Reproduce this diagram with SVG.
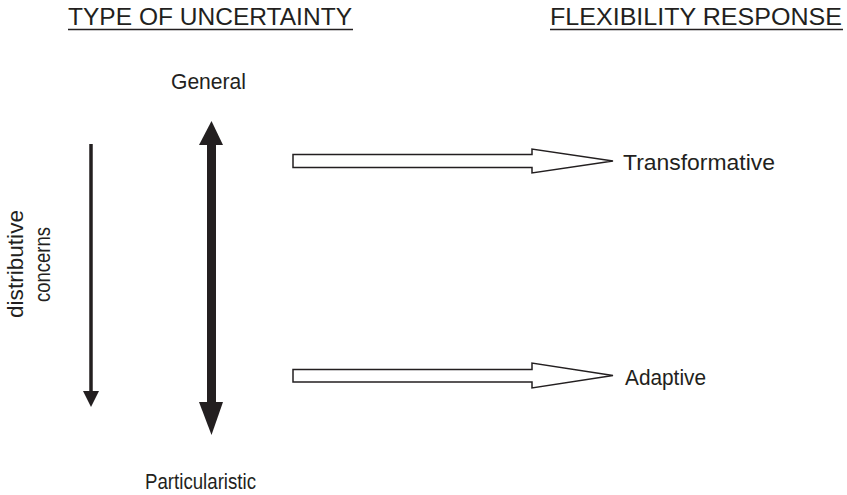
<svg xmlns="http://www.w3.org/2000/svg" width="847" height="495" viewBox="0 0 847 495">
<style>
text{font-family:"Liberation Sans",Arial,sans-serif;fill:#231f20;}
.title{font-size:24.5px;}
.lbl{font-size:22px;}
.ul{stroke:#231f20;stroke-width:1.5;}
.hollow{fill:#fff;stroke:#231f20;stroke-width:1.5;stroke-linejoin:miter;}
.solid{fill:#231f20;}
</style>
<rect width="847" height="495" fill="#fff"/>
<g id="title-uncertainty">
<text class="title" x="68" y="25" textLength="284" lengthAdjust="spacingAndGlyphs">TYPE OF UNCERTAINTY</text>
<line class="ul" x1="68" y1="29.5" x2="353" y2="29.5"/>
</g>
<g id="title-flexibility">
<text class="title" x="550" y="25" textLength="292" lengthAdjust="spacingAndGlyphs">FLEXIBILITY RESPONSE</text>
<line class="ul" x1="550" y1="29.5" x2="843" y2="29.5"/>
</g>
<g id="general"><text class="lbl" x="171" y="89" textLength="75" lengthAdjust="spacingAndGlyphs">General</text></g>
<g id="particularistic"><text class="lbl" x="145" y="489" textLength="111" lengthAdjust="spacingAndGlyphs">Particularistic</text></g>
<g id="transformative"><text class="lbl" x="623" y="170" textLength="152" lengthAdjust="spacingAndGlyphs">Transformative</text></g>
<g id="adaptive"><text class="lbl" x="625" y="385" textLength="81" lengthAdjust="spacingAndGlyphs">Adaptive</text></g>
<g id="distributive-concerns">
<text class="lbl" transform="translate(23,318) rotate(-90)" x="0" y="0" textLength="108" lengthAdjust="spacingAndGlyphs">distributive</text>
<text class="lbl" transform="translate(50,302) rotate(-90)" x="0" y="0" textLength="75" lengthAdjust="spacingAndGlyphs">concerns</text>
</g>
<g id="connectors">
<g id="distributive-arrow">
<line x1="91" y1="144" x2="91" y2="392" stroke="#231f20" stroke-width="3.5"/>
<polygon class="solid" points="83,391 99,391 91,407"/>
</g>
<g id="uncertainty-axis">
<rect class="solid" x="207" y="144" width="9" height="259"/>
<polygon class="solid" points="199,145 223,145 211.5,121"/>
<polygon class="solid" points="199,402 223,402 211.5,435"/>
</g>
<path id="arrow-transformative" class="hollow" d="M293,154.5 H532 V149 L613,161 L532,173 V167.5 H293 Z"/>
<path id="arrow-adaptive" class="hollow" d="M293,369.5 H532 V363 L613,375.5 L532,388 V382 H293 Z"/>
</g>
</svg>
